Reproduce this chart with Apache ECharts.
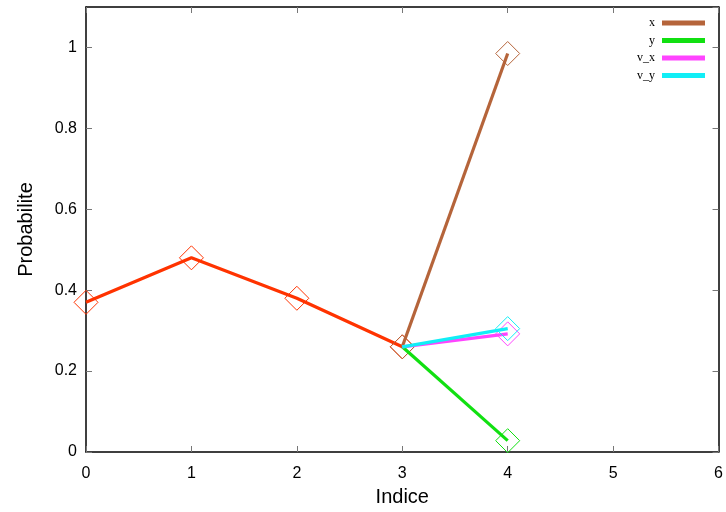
<!DOCTYPE html>
<html><head><meta charset="utf-8">
<script src="https://cdn.jsdelivr.net/npm/echarts@6/dist/echarts.min.js"></script>
<style>html,body{margin:0;padding:0;background:#fff}#c{width:726px;height:512px}</style>
</head><body><div id="c"></div>
<script>
var indices = [0, 1, 2, 3, 4];
var baseVals = [0.37, 0.48, 0.38, 0.26, null];
var xVals  = [null, null, null, 0.26, 0.985];
var yVals  = [null, null, null, 0.26, 0.028];
var vxVals = [null, null, null, 0.26, 0.292];
var vyVals = [null, null, null, 0.26, 0.305];
var seriesNames = ['x', 'y', 'v_x', 'v_y'];
var colors = ['#b5643a', '#11e011', '#ff44ff', '#11eef6'];
var baseColor = '#ff3300';

function pairs(vals, hideStart){
  var o=[];
  for(var i=0;i<indices.length;i++){
    if(vals[i]===null) continue;
    var first = o.length===0;
    if (hideStart && first) o.push({value:[indices[i], vals[i]], symbol:'none'});
    else o.push([indices[i], vals[i]]);
  }
  return o;
}

function mkSeries(name, vals, color, z, hideStart){
  return {
    name: name, type: 'line', data: pairs(vals, hideStart), z: z,
    symbol: 'diamond', symbolSize: [24, 24], showSymbol: true,
    lineStyle: {color: color, width: 3.2},
    itemStyle: {color: 'rgba(0,0,0,0)', borderColor: color, borderWidth: 1},
    emphasis: {disabled: true}, animation: false
  };
}
var allVals = [xVals, yVals, vxVals, vyVals];
var series = [];
series.push(mkSeries('', baseVals, baseColor, 2, false));
for (var i=0;i<4;i++) series.push(mkSeries(seriesNames[i], allVals[i], colors[i], 3+i, i>0));

var chart = echarts.init(document.getElementById('c'), null, {renderer:'canvas'});
var labelFont = {fontFamily:'Liberation Sans, Arial, sans-serif', fontSize:16, color:'#000'};
var tick = {inside:true, length:6, lineStyle:{color:'#777'}};
var line = {show:true, onZero:false, lineStyle:{color:'#000', width:1.5}};
chart.setOption({
  animation:false,
  grid:{left:86, right:5, top:7, bottom:58},
  legend:{
    data: seriesNames.map(function(n,i){return {name:n, icon:'rect', itemStyle:{color:colors[i]}};}),
    orient:'vertical', right:16, top:12, align:'right', itemWidth:41, itemHeight:3, itemGap:5.5,
    textStyle:{fontFamily:'Liberation Serif, Times New Roman, serif', fontSize:12, color:'#000', padding:[0,3,0,0]},
    selectedMode:false
  },
  xAxis:[{
    type:'value', min:0, max:6, interval:1, position:'bottom',
    name:'Indice', nameLocation:'middle', nameGap:35,
    nameTextStyle:{fontFamily:'Liberation Sans, Arial, sans-serif', fontSize:20, color:'#000'},
    axisLine:line, axisTick:tick,
    axisLabel:Object.assign({margin:14}, labelFont),
    splitLine:{show:false}
  },{
    type:'value', min:0, max:6, interval:1, position:'top',
    axisLine:line, axisTick:tick,
    axisLabel:{show:false}, splitLine:{show:false}
  }],
  yAxis:[{
    type:'value', min:0, max:1.1, interval:0.2, position:'left',
    name:'Probabilite', nameLocation:'middle', nameGap:50,
    nameTextStyle:{fontFamily:'Liberation Sans, Arial, sans-serif', fontSize:20, color:'#000'},
    axisLine:line, axisTick:tick,
    axisLabel:Object.assign({margin:9, showMaxLabel:false, formatter:function(v){ if (v>1.05) return ''; return String(Math.round(v*10)/10);} }, labelFont),
    splitLine:{show:false}
  },{
    type:'value', min:0, max:1.1, interval:0.2, position:'right',
    axisLine:line, axisTick:tick,
    axisLabel:{show:false}, splitLine:{show:false}
  }],
  series: series
});
</script></body></html>
